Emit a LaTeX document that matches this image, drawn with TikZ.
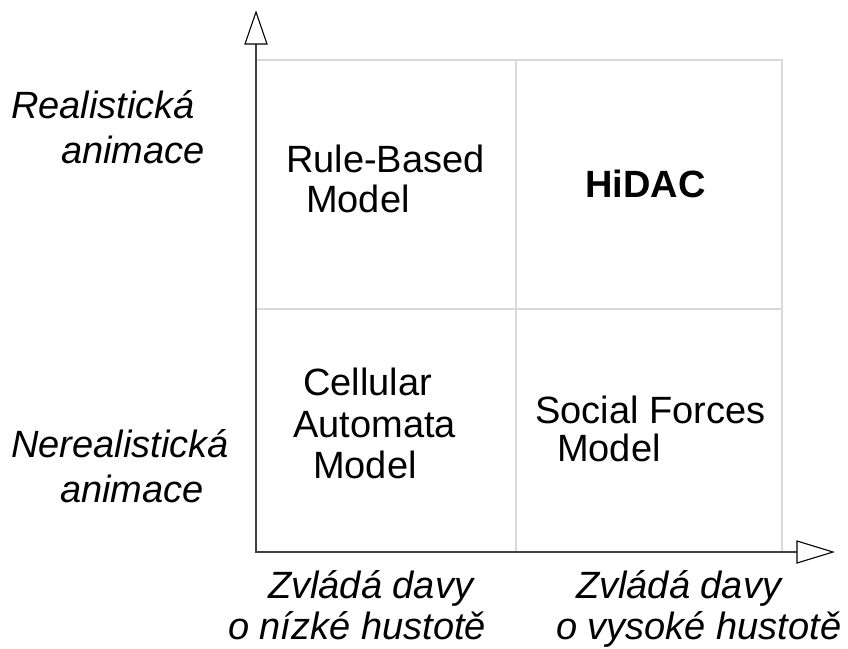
\documentclass[tikz,border=0pt]{standalone}
\usepackage{fontspec}
\setmainfont{Liberation Sans}
\begin{document}
\begin{tikzpicture}[x=1pt,y=-1pt,
  lbl/.style={anchor=base west,inner sep=0pt,font=\fontsize{38}{40}\selectfont},
  ilbl/.style={lbl,font=\fontsize{38}{40}\selectfont\itshape},
  blbl/.style={lbl,font=\fontsize{38}{40}\selectfont\bfseries},
  gridline/.style={draw=black!15,line width=1.5pt},
  axisline/.style={draw=black!75,line width=1.6pt},
  headshape/.style={draw=black,fill=white,line width=1.1pt,line join=miter}]
\useasboundingbox (0,0) rectangle (848,648);
% grid
\coordinate (o) at (256,552);
\coordinate (tl) at (256,60);
\coordinate (tr) at (782,60);
\coordinate (br) at (782,552);
\coordinate (tm) at (516,60);
\coordinate (bm) at (516,552);
\coordinate (lm) at (256,309);
\coordinate (rm) at (782,309);
\draw[gridline] (tl) -- (tr) -- (br);
\draw[gridline] (tm) -- (bm);
\draw[gridline] (lm) -- (rm);
% axes
\coordinate (ytop) at (256,44);
\coordinate (xend) at (797,552);
\draw[axisline] (ytop) -- (o) -- (xend);
\draw[headshape] (256,12) -- (267,44) -- (245,44) -- cycle;
\draw[headshape] (833,552) -- (797,563) -- (797,541) -- cycle;
% cell labels
\node[lbl] (rb1) at (286,172) {Rule-Based};
\node[lbl] (rb2) at (306,212) {Model};
\node[blbl] (hd) at (585,197) {HiDAC};
\node[lbl] (ca1) at (303,395) {Cellular};
\node[lbl] (ca2) at (293,437) {Automata};
\node[lbl] (ca3) at (313,478) {Model};
\node[lbl] (sf1) at (535,423) {Social Forces};
\node[lbl] (sf2) at (557,461) {Model};
% y labels
\node[ilbl] (r1) at (11,118) {Realistická};
\node[ilbl] (r2) at (61,163) {animace};
\node[ilbl] (n1) at (11,457) {Nerealistická};
\node[ilbl] (n2) at (60,502) {animace};
% x labels
\node[ilbl] (x1) at (268,598) {Zvládá davy};
\node[ilbl] (x2) at (228,639) {o nízké hustotě};
\node[ilbl] (x3) at (576,598) {Zvládá davy};
\node[ilbl] (x4) at (556,639) {o vysoké hustotě};
\end{tikzpicture}
\end{document}
